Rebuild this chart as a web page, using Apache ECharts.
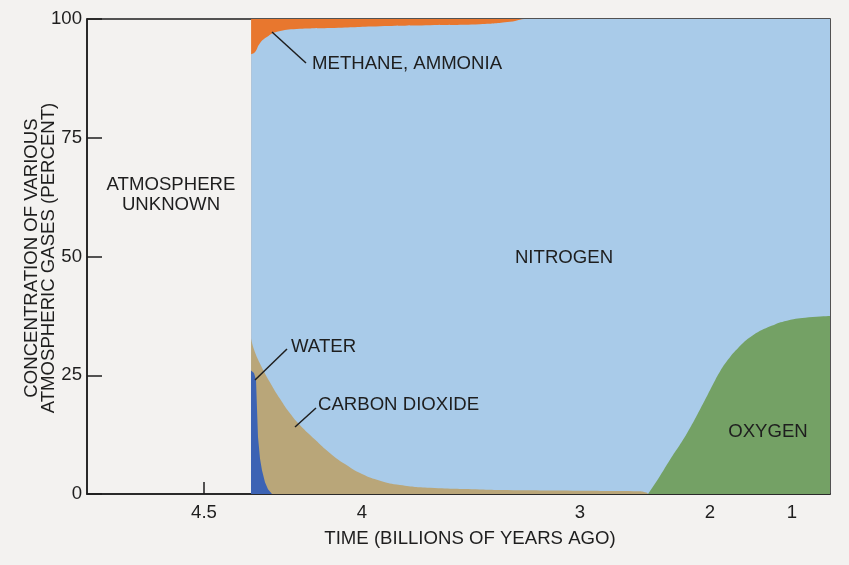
<!DOCTYPE html>
<html>
<head>
<meta charset="utf-8">
<script src="https://cdn.jsdelivr.net/npm/echarts@6/dist/echarts.min.js"></script>
<style>
html,body{margin:0;padding:0;background:#f3f2f0;}
#chart{width:849px;height:565px;}
</style>
</head>
<body>
<div id="chart"></div>
<script>
// ---- Axis scale (the printed time axis is not linear) ----
const scaleTimes = [4.87, 4.5, 4, 3, 2, 1, 0.55];   // billions of years ago
const scaleUnits = [0, 117, 275, 493, 623, 705, 743]; // axis units along the x axis
const tickTimes  = [4.5, 4, 3, 2, 1];
const tickLabels = ['4.5', '4', '3', '2', '1'];
const yTicks     = [0, 25, 50, 75, 100];

// ---- Data: upper boundary of each coloured band, [time (Ga), percent] ----
const methaneTop = [[4.351, 100], [3.20, 100]];
const nitrogenTop = [
  [4.351, 92.6], [4.339, 93.0], [4.323, 94.9], [4.301, 96.2], [4.269, 97.3],
  [4.206, 97.9], [4.101, 98.1], [3.917, 98.5], [3.688, 98.7], [3.459, 98.9],
  [3.321, 99.4], [3.243, 100], [2.8, 100], [0.55, 100]
];
const carbonDioxideTop = [
  [4.351, 32.8], [4.342, 30.5], [4.323, 27.5], [4.291, 23.5], [4.259, 20.0],
  [4.228, 17.0], [4.196, 14.5], [4.149, 11.5], [4.101, 8.6], [4.054, 6.3],
  [4.000, 4.2], [3.917, 2.8], [3.826, 1.9], [3.688, 1.3], [3.459, 0.95],
  [3.367, 0.85], [3.000, 0.7], [2.550, 0.6], [2.490, 0.3], [2.477, 0]
];
const waterTop = [
  [4.3513, 26.0], [4.3418, 25.5], [4.3354, 24.0], [4.3323, 18.0], [4.3291, 12.0],
  [4.3228, 7.5], [4.3165, 5.0], [4.3070, 2.5], [4.2975, 1.0], [4.2848, 0]
];
const oxygenTop = [
  [2.477, 0], [2.385, 3.8], [2.308, 7.2], [2.177, 12.8], [2.054, 19.0], [1.960, 23.2],
  [1.878, 25.8], [1.780, 28.3], [1.671, 30.5], [1.476, 33.4], [1.250, 35.4],
  [1.061, 36.5], [0.800, 37.2], [0.55, 37.5]
];

function warp(t) {
  for (let i = 0; i < scaleTimes.length - 1; i++) {
    const a = scaleTimes[i], b = scaleTimes[i + 1];
    if (t <= a && t >= b) {
      return scaleUnits[i] + (a - t) / (a - b) * (scaleUnits[i + 1] - scaleUnits[i]);
    }
  }
  return t > scaleTimes[0] ? scaleUnits[0] : scaleUnits[scaleUnits.length - 1];
}
const toXY = arr => arr.map(p => [warp(p[0]), p[1]]);
const tickPos = tickTimes.map(warp);

const ink = '#1e1e1e';
const font = '"Liberation Sans", Arial, Helvetica, sans-serif';
const fs = '18.6px ';

function band(name, data, color, smooth, z) {
  return {
    name, type: 'line', data: toXY(data), smooth: smooth,
    showSymbol: false, symbol: 'none', z: z,
    lineStyle: { width: 0 },
    areaStyle: { color: color, opacity: 1 },
    silent: true
  };
}

const chart = echarts.init(document.getElementById('chart'), null, { renderer: 'canvas' });
chart.setOption({
  backgroundColor: '#f3f2f0',
  animation: false,
  grid: { left: 87, right: 19, top: 19, bottom: 71, show: true, borderColor: ink, borderWidth: 1.5, backgroundColor: 'transparent' },
  xAxis: {
    type: 'value', min: 0, max: 743,
    axisLine: { show: true, onZero: false, lineStyle: { color: ink, width: 1.5 } },
    axisTick: { show: true, inside: true, length: 12, customValues: tickPos, lineStyle: { color: ink, width: 1.5 } },
    axisLabel: {
      customValues: tickPos, margin: 9, fontSize: 18.6, color: ink, fontFamily: font,
      formatter: v => {
        let best = 0;
        tickPos.forEach((p, i) => { if (Math.abs(p - v) < Math.abs(tickPos[best] - v)) best = i; });
        return tickLabels[best];
      }
    },
    splitLine: { show: false }
  },
  yAxis: {
    type: 'value', min: 0, max: 100, interval: 25,
    axisLine: { show: true, lineStyle: { color: ink, width: 1.5 } },
    axisTick: { show: true, inside: true, length: 15, customValues: yTicks, lineStyle: { color: ink, width: 1.5 } },
    axisLabel: { customValues: yTicks, margin: 5, fontSize: 18.6, color: ink, fontFamily: font },
    splitLine: { show: false }
  },
  series: [
    band('Methane, ammonia', methaneTop, '#e8772e', false, 1),
    band('Nitrogen', nitrogenTop, '#a9cbe9', 0.5, 2),
    band('Carbon dioxide', carbonDioxideTop, '#b9a679', 0.5, 3),
    band('Water', waterTop, '#3c63b4', false, 4),
    band('Oxygen', oxygenTop, '#74a165', 0.5, 5)
  ],
  graphic: [
    { type: 'text', z: 100, x: 40, y: 258, rotation: Math.PI / 2,
      style: { text: 'CONCENTRATION OF VARIOUS\nATMOSPHERIC GASES (PERCENT)', font: fs + font, fill: ink, align: 'center', verticalAlign: 'middle', lineHeight: 17 } },
    { type: 'text', z: 100, x: 470, y: 539,
      style: { text: 'TIME (BILLIONS OF YEARS AGO)', font: fs + font, fill: ink, align: 'center', verticalAlign: 'middle' } },
    { type: 'text', z: 100, x: 171, y: 195,
      style: { text: 'ATMOSPHERE\nUNKNOWN', font: fs + font, fill: ink, align: 'center', verticalAlign: 'middle', lineHeight: 20 } },
    { type: 'text', z: 100, x: 312, y: 64,
      style: { text: 'METHANE, AMMONIA', font: fs + font, fill: ink, align: 'left', verticalAlign: 'middle' } },
    { type: 'text', z: 100, x: 564, y: 258,
      style: { text: 'NITROGEN', font: fs + font, fill: ink, align: 'center', verticalAlign: 'middle' } },
    { type: 'text', z: 100, x: 291, y: 347,
      style: { text: 'WATER', font: fs + font, fill: ink, align: 'left', verticalAlign: 'middle' } },
    { type: 'text', z: 100, x: 318, y: 405,
      style: { text: 'CARBON DIOXIDE', font: fs + font, fill: ink, align: 'left', verticalAlign: 'middle' } },
    { type: 'text', z: 100, x: 768, y: 432,
      style: { text: 'OXYGEN', font: fs + font, fill: ink, align: 'center', verticalAlign: 'middle' } },
    { type: 'line', z: 100, shape: { x1: 272, y1: 32, x2: 306, y2: 63 }, style: { stroke: ink, lineWidth: 1.5 } },
    { type: 'line', z: 100, shape: { x1: 255, y1: 380, x2: 287, y2: 349 }, style: { stroke: ink, lineWidth: 1.5 } },
    { type: 'line', z: 100, shape: { x1: 295, y1: 427, x2: 316, y2: 408 }, style: { stroke: ink, lineWidth: 1.5 } }
  ]
});
</script>
</body>
</html>
